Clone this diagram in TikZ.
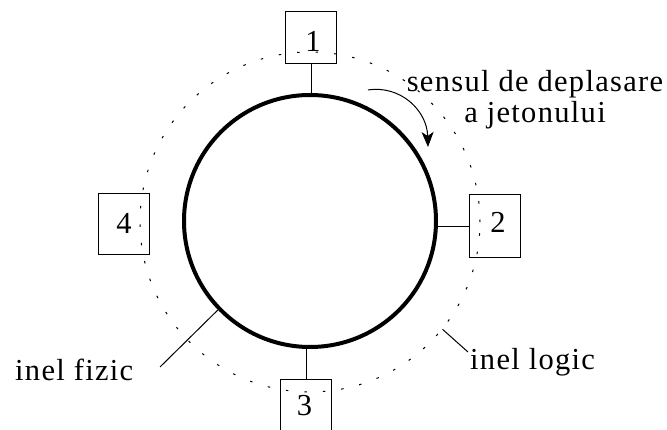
\documentclass[tikz,border=0pt]{standalone}
\usepackage{fontspec}
\setmainfont{Liberation Serif}
\newfontfamily\lbfont[LetterSpace=4.3]{Liberation Serif}
\usetikzlibrary{arrows.meta}
\begin{document}
\begin{tikzpicture}[x=1pt,y=-1pt,
  station/.style={draw,line width=1pt,inner sep=0pt,minimum width=51pt},
  lbl/.style={font=\lbfont\fontsize{30.5}{31}\selectfont,inner sep=0pt},
  thin/.style={line width=1pt},
  physring/.style={circle,draw,line width=4pt,inner sep=0pt,minimum size=252pt},
  logring/.style={circle,draw,line width=1pt,inner sep=0pt,minimum size=340pt,
                  dash pattern=on 2.5pt off 16pt}]
\clip (0,0) rectangle (667,430);
% logical ring (dotted) and physical ring (thick)
\node[logring] (logic) at (310,222) {};
\node[physring] (ring) at (310,221) {};
% stations
\node[station,minimum height=52pt] (s1) at (311.2,37.5) {};
\node[station,minimum height=63pt] (s2) at (495.3,226.5) {};
\node[station,minimum height=61pt] (s3) at (306.4,410) {};
\node[station,minimum height=61pt] (s4) at (123.8,223.7) {};
\node[lbl] (n1) at (313,41.5) {1};
\node[lbl] (n2) at (498,222.5) {2};
\node[lbl] (n3) at (304.5,406) {3};
\node[lbl] (n4) at (124,223) {4};
% station taps onto the ring
\draw[thin] (s1.south) -- (s1.south |- ring.north);
\draw[thin] (s3.north) -- (s3.north |- ring.south);
\draw[thin] (s4.east) -- (s4.east |- ring.west);
\draw[thin] (s2.west) -- (ring.east |- s2.west);
% token direction
\coordinate (a0) at (368,90);
\coordinate (a1) at (428,147);
\draw[thin,-{Stealth[length=15pt,width=12pt,inset=4pt]}]
  (a0) .. controls (400,85) and (427,110) .. (a1);
\node[lbl,align=center,anchor=base] (sens) at (535,123) {sensul de deplasare\\a jetonului};
% ring labels
\node[lbl,anchor=base west] (fiz) at (15,381) {inel fizic};
\node[lbl,anchor=base west] (log) at (470,370) {inel logic};
\coordinate (fz) at (160,367);
\coordinate (lg) at (468,352);
\draw[thin] (fz) -- (ring.224);
\draw[thin] (logic.-39) -- (lg);
\end{tikzpicture}
\end{document}
